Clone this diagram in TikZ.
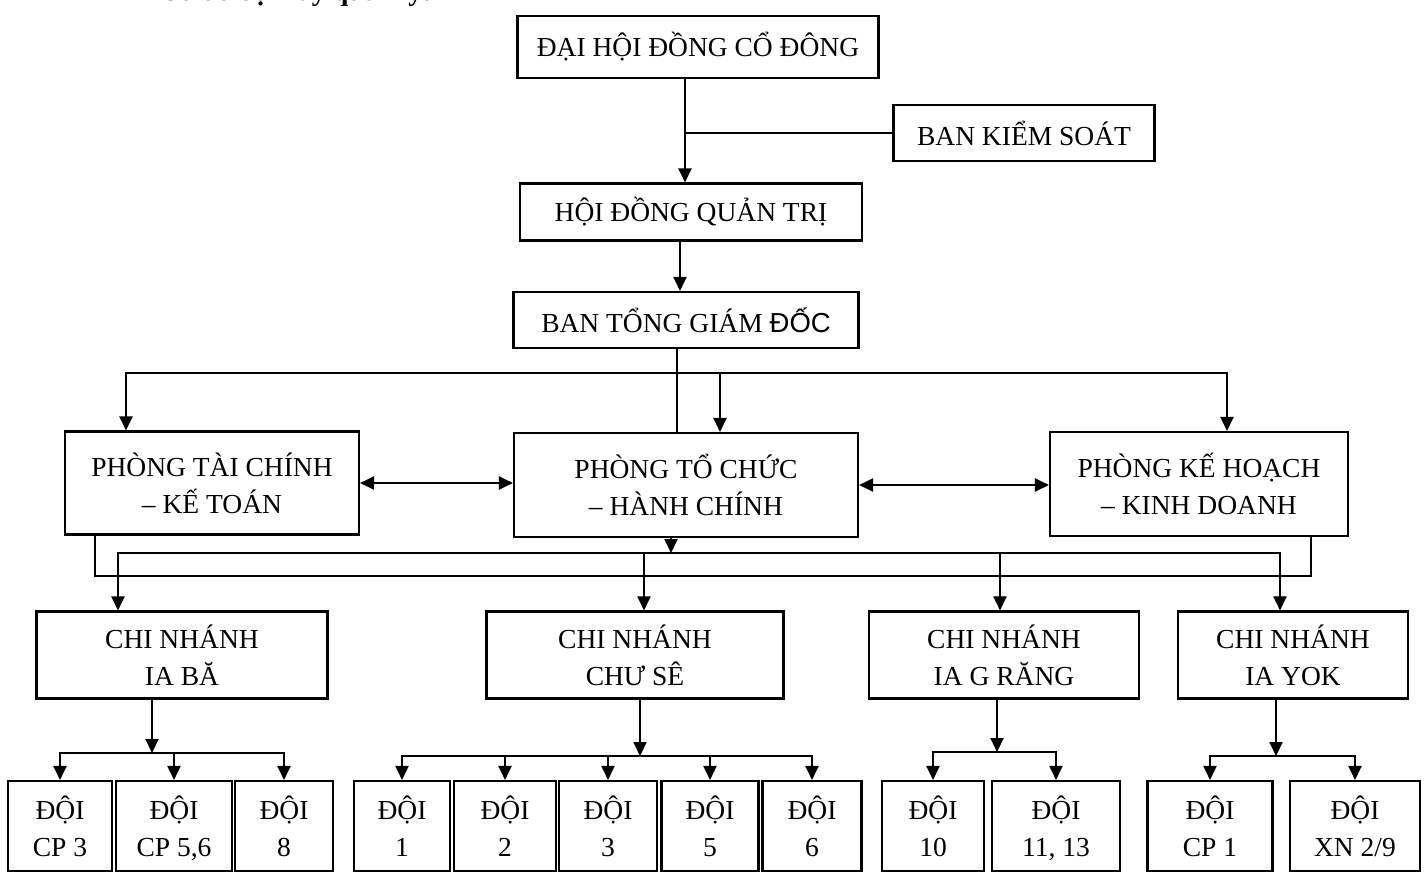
\documentclass[tikz,border=0pt]{standalone}
\usepackage{fontspec}
\setmainfont{Liberation Serif}
\setsansfont{Liberation Sans}
\usetikzlibrary{arrows.meta}
\begin{document}
\begin{tikzpicture}[x=1pt,y=-1pt,
  box/.style={draw, line width=2.1pt, inner sep=0pt, align=center,
    font=\fontsize{27.5}{37}\selectfont},
  ln/.style={line width=2.1pt, line join=miter},
  tip/.tip={Triangle[length=14pt,width=13pt]},
  arr/.style={ln, -tip},
  darr/.style={ln, tip-tip}]
\useasboundingbox (0,0) rectangle (1428,895);

% partly cut-off heading at the top edge
\node[anchor=base east, inner sep=0pt, font=\bfseries\fontsize{28}{30}\selectfont] (hdr) at (432,0.5) {Sơ đồ bộ máy quản lý:};

% top levels
\node[box, minimum width=361pt, minimum height=62pt] (dh) at (698,47) {ĐẠI HỘI ĐỒNG CỔ ĐÔNG};
\node[box, minimum width=261pt, minimum height=56pt] (bks) at (1024,133) {BAN KIỂM SOÁT};
\node[box, minimum width=342pt, minimum height=57pt] (hdqt) at (691,212) {HỘI ĐỒNG QUẢN TRỊ};
\node[box, minimum width=345pt, minimum height=56pt] (btgd) at (686,320) {BAN TỔNG GIÁM {\sffamily ĐỐC}};

% departments
\node[box, minimum width=294pt, minimum height=103pt] (ptckt) at (212,483) {PHÒNG TÀI CHÍNH\\– KẾ TOÁN};
\node[box, minimum width=344pt, minimum height=104pt] (ptchc) at (686,485) {PHÒNG TỔ CHỨC\\– HÀNH CHÍNH};
\node[box, minimum width=298pt, minimum height=104pt] (pkhkd) at (1199,484) {PHÒNG KẾ HOẠCH\\– KINH DOANH};

% branches
\node[box, minimum width=291pt, minimum height=87pt] (cn1) at (182,655) {CHI NHÁNH\\IA BĂ};
\node[box, minimum width=297pt, minimum height=87pt] (cn2) at (635,655) {CHI NHÁNH\\CHƯ SÊ};
\node[box, minimum width=270pt, minimum height=87pt] (cn3) at (1004,655) {CHI NHÁNH\\IA G RĂNG};
\node[box, minimum width=230pt, minimum height=87pt] (cn4) at (1293,655) {CHI NHÁNH\\IA YOK};

% teams
\node[box, minimum width=104pt, minimum height=90pt] (d1a) at (60,826) {ĐỘI\\CP 3};
\node[box, minimum width=116pt, minimum height=90pt] (d1b) at (174,826) {ĐỘI\\CP 5\smash{,}6};
\node[box, minimum width=98pt, minimum height=90pt] (d1c) at (284,826) {ĐỘI\\8};
\node[box, minimum width=96pt, minimum height=90pt] (d2a) at (402,826) {ĐỘI\\1};
\node[box, minimum width=102pt, minimum height=90pt] (d2b) at (505,826) {ĐỘI\\2};
\node[box, minimum width=98pt, minimum height=90pt] (d2c) at (608,826) {ĐỘI\\3};
\node[box, minimum width=97pt, minimum height=90pt] (d2d) at (710,826) {ĐỘI\\5};
\node[box, minimum width=99pt, minimum height=90pt] (d2e) at (812,826) {ĐỘI\\6};
\node[box, minimum width=102pt, minimum height=90pt] (d3a) at (933,826) {ĐỘI\\10};
\node[box, minimum width=128pt, minimum height=90pt] (d3b) at (1056,826) {ĐỘI\\11\smash{,} 13};
\node[box, minimum width=125pt, minimum height=90pt] (d4a) at (1210,826) {ĐỘI\\CP 1};
\node[box, minimum width=130pt, minimum height=90pt] (d4b) at (1355,826) {ĐỘI\\XN 2/9};

% upper connectors
\coordinate (v1) at (685,131);
\draw[arr] (dh.south -| v1) -- (hdqt.north -| v1);
\draw[ln] (bks.west) -- (bks.west -| v1);
\coordinate (v2) at (680,0);
\draw[arr] (hdqt.south -| v2) -- (btgd.north -| v2);
\coordinate (v3) at (677,0);
\draw[ln] (btgd.south -| v3) -- (ptchc.north -| v3);
\coordinate (tbl) at (126,373);
\coordinate (tbm) at (720,373);
\coordinate (tbr) at (1227,373);
\draw[darr] (ptckt.north -| tbl) -- (tbl) -- (tbr) -- (pkhkd.north -| tbr);
\draw[arr] (tbm) -- (ptchc.north -| tbm);

% between departments
\draw[darr] (ptckt.east) -- (ptckt.east -| ptchc.west);
\draw[darr] (ptchc.east) -- (ptchc.east -| pkhkd.west);

% buses to branches
\coordinate (l1a) at (118,553);
\coordinate (l1m) at (671,553);
\coordinate (l1c) at (644,553);
\coordinate (l1d) at (1000,553);
\coordinate (l1b) at (1280,553);
\draw[arr] (ptchc.south -| l1m) -- (l1m);
\draw[darr] (cn1.north -| l1a) -- (l1a) -- (l1b) -- (cn4.north -| l1b);
\draw[arr] (l1c) -- (cn2.north -| l1c);
\draw[arr] (l1d) -- (cn3.north -| l1d);
\coordinate (l2a) at (95,576);
\coordinate (l2b) at (1311,576);
\draw[ln] (ptckt.south -| l2a) -- (l2a) -- (l2b) -- (pkhkd.south -| l2b);

% branch to teams
\coordinate (g1) at (152,753);
\draw[arr] (cn1.south -| g1) -- (g1);
\draw[darr] (d1a.north) -- (d1a.north |- g1) -- (d1c.north |- g1) -- (d1c.north);
\draw[arr] (d1b.north |- g1) -- (d1b.north);

\coordinate (g2) at (640,756);
\draw[arr] (cn2.south -| g2) -- (g2);
\draw[darr] (d2a.north) -- (d2a.north |- g2) -- (d2e.north |- g2) -- (d2e.north);
\draw[arr] (d2b.north |- g2) -- (d2b.north);
\draw[arr] (d2c.north |- g2) -- (d2c.north);
\draw[arr] (d2d.north |- g2) -- (d2d.north);

\coordinate (g3) at (997,752);
\draw[arr] (cn3.south -| g3) -- (g3);
\draw[darr] (d3a.north) -- (d3a.north |- g3) -- (d3b.north |- g3) -- (d3b.north);

\coordinate (g4) at (1276,756);
\draw[arr] (cn4.south -| g4) -- (g4);
\draw[darr] (d4a.north) -- (d4a.north |- g4) -- (d4b.north |- g4) -- (d4b.north);
\end{tikzpicture}
\end{document}
